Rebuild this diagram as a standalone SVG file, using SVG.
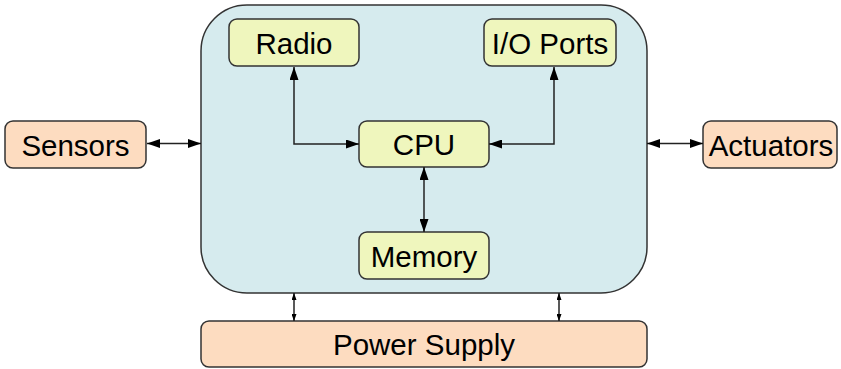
<svg xmlns="http://www.w3.org/2000/svg" width="841" height="369" viewBox="0 0 841 369">
<style>
.box{stroke:#333;stroke-width:1.5}
.main{fill:#d6ebee}
.y{fill:#eff6bd}
.o{fill:#fddcc0}
text{font-family:"Liberation Sans",Arial,sans-serif;font-size:29.5px;fill:#000;text-anchor:middle;dominant-baseline:central}
.c{fill:none;stroke:#222;stroke-width:1.5}
</style>
<defs>
<marker id="a" viewBox="0 0 13 9" refX="13" refY="4.5" markerWidth="13" markerHeight="9" markerUnits="userSpaceOnUse" orient="auto-start-reverse"><path d="M0,0L13,4.5L0,9z" fill="#000"/></marker>
<marker id="s" viewBox="0 0 7 5" refX="7" refY="2.5" markerWidth="7" markerHeight="5" markerUnits="userSpaceOnUse" orient="auto-start-reverse"><path d="M0,0L7,2.5L0,5z" fill="#000"/></marker>
</defs>
<g id="mcu"><rect class="box main" x="201" y="5" width="446" height="288" rx="46"/></g>
<g id="sensors"><rect class="box o" x="5" y="121" width="141" height="47" rx="8"/><text x="75.5" y="145">Sensors</text></g>
<g id="actuators"><rect class="box o" x="703" y="121" width="134" height="47" rx="8"/><text x="771" y="145">Actuators</text></g>
<g id="radio"><rect class="box y" x="229" y="19" width="130" height="47" rx="8"/><text x="294" y="43">Radio</text></g>
<g id="io"><rect class="box y" x="484" y="19" width="132" height="47" rx="8"/><text x="550" y="43">I/O Ports</text></g>
<g id="cpu"><rect class="box y" x="359" y="121" width="130" height="46" rx="8"/><text x="424" y="144.5">CPU</text></g>
<g id="memory"><rect class="box y" x="359" y="232" width="130" height="47" rx="8"/><text x="424" y="256">Memory</text></g>
<g id="power"><rect class="box o" x="201" y="321" width="446" height="46" rx="8"/><text x="424" y="344.5">Power Supply</text></g>
<g id="connectors">
<path class="c" d="M147,143.5H201" marker-start="url(#a)" marker-end="url(#a)"/>
<path class="c" d="M647,143.5H703" marker-start="url(#a)" marker-end="url(#a)"/>
<path class="c" d="M294,67V144H359" marker-start="url(#a)" marker-end="url(#a)"/>
<path class="c" d="M554,67V144H489" marker-start="url(#a)" marker-end="url(#a)"/>
<path class="c" d="M424,167V232" marker-start="url(#a)" marker-end="url(#a)"/>
<path class="c" d="M294,293V321" marker-start="url(#s)" marker-end="url(#s)"/>
<path class="c" d="M559,293V321" marker-start="url(#s)" marker-end="url(#s)"/>
</g>
</svg>
